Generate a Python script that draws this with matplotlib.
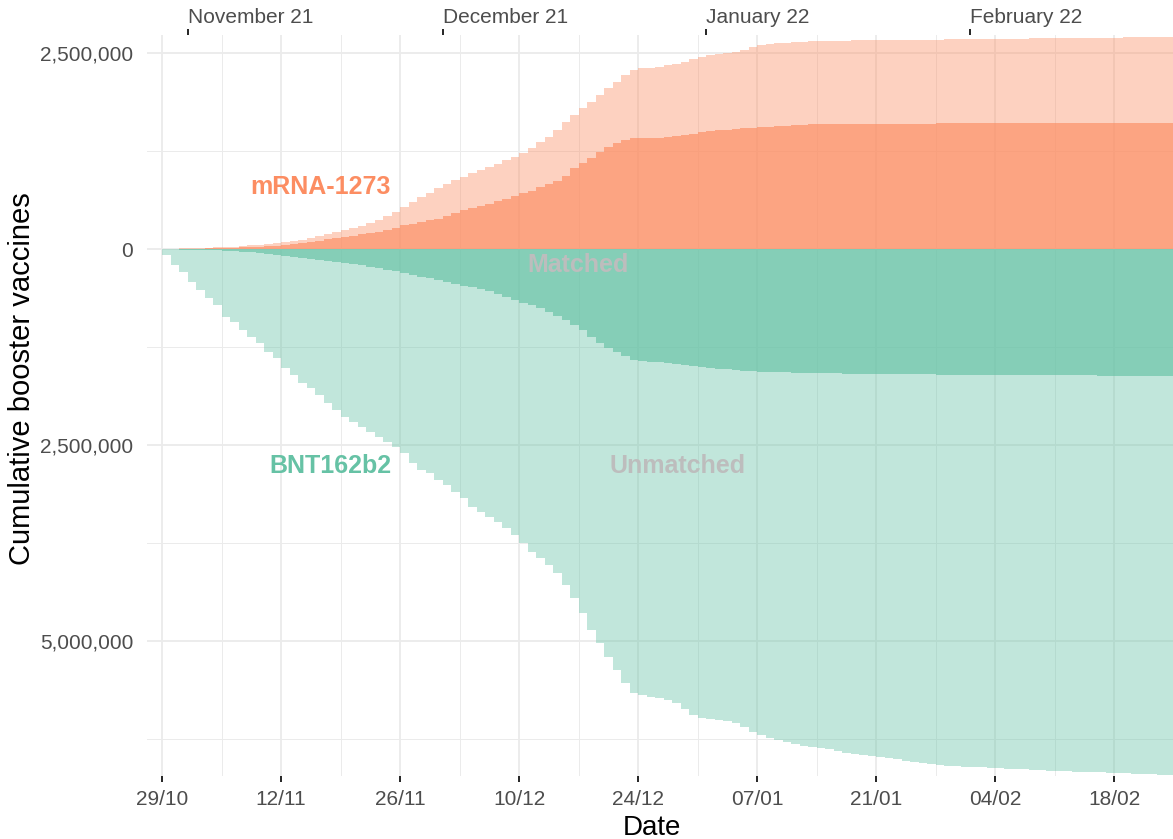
import numpy as np
import pandas as pd
import matplotlib
matplotlib.use('Agg')
import matplotlib.pyplot as plt
import matplotlib.dates as mdates
from matplotlib.ticker import FixedLocator, FuncFormatter

plt.rcParams['font.family'] = ['Liberation Sans', 'DejaVu Sans']

# cumulative booster doses per day (thousands), from 29/10/2021
start = '2021-10-29'
mrna_total = [2, 4, 7, 10, 13, 17, 21, 26, 31, 37,
              45, 54, 64, 76, 89, 104, 121, 140, 164, 190,
              215, 242, 270, 300, 332, 372, 415, 470, 536, 600,
              663, 720, 778, 830, 880, 925, 969, 1008, 1046, 1090,
              1135, 1180, 1224, 1288, 1365, 1429, 1518, 1620, 1709, 1798,
              1875, 1964, 2054, 2130, 2219, 2283, 2309, 2312, 2321, 2347,
              2360, 2385, 2423, 2449, 2474, 2487, 2500, 2513, 2538, 2577,
              2602, 2615, 2628, 2634, 2640, 2645, 2649, 2653, 2655, 2657,
              2658, 2660, 2661, 2663, 2664, 2666, 2667, 2668, 2669, 2670,
              2671, 2672, 2673, 2674, 2675, 2676, 2677, 2679, 2680, 2681,
              2682, 2684, 2686, 2688, 2690, 2691, 2692, 2693, 2694, 2695,
              2696, 2697, 2698, 2699, 2700, 2701, 2702, 2703, 2704]
mrna_matched = [0, 1, 2, 3, 5, 7, 10, 13, 16, 20,
                25, 31, 37, 44, 51, 62, 76, 92, 108, 123,
                138, 153, 170, 187, 204, 222, 242, 272, 306, 325,
                345, 364, 383, 420, 460, 497, 522, 548, 574, 608,
                642, 676, 714, 740, 791, 830, 867, 931, 1033, 1100,
                1161, 1237, 1301, 1352, 1390, 1416, 1418, 1420, 1422, 1430,
                1442, 1454, 1472, 1490, 1505, 1515, 1524, 1532, 1540, 1548,
                1556, 1562, 1568, 1574, 1580, 1586, 1590, 1594, 1595, 1596,
                1596, 1597, 1597, 1598, 1598, 1599, 1599, 1600, 1600, 1601,
                1601, 1602, 1602, 1603, 1603, 1604, 1604, 1605, 1605, 1606,
                1606, 1606, 1607, 1607, 1607, 1607, 1607, 1607, 1607, 1607,
                1607, 1607, 1607, 1607, 1607, 1607, 1607, 1607, 1607]
bnt_total = [77, 204, 293, 421, 523, 625, 714, 867, 931, 1033,
             1122, 1199, 1314, 1390, 1518, 1607, 1709, 1773, 1862, 1964,
             2054, 2143, 2207, 2270, 2334, 2398, 2462, 2525, 2602, 2730,
             2819, 2857, 2946, 3010, 3099, 3176, 3291, 3355, 3418, 3482,
             3559, 3648, 3750, 3865, 3941, 4031, 4133, 4286, 4451, 4643,
             4860, 5025, 5204, 5370, 5536, 5663, 5689, 5714, 5727, 5753,
             5791, 5867, 5944, 5982, 5995, 6008, 6020, 6046, 6097, 6161,
             6199, 6237, 6263, 6288, 6314, 6339, 6352, 6365, 6378, 6403,
             6429, 6441, 6454, 6467, 6480, 6492, 6505, 6531, 6543, 6556,
             6569, 6582, 6594, 6596, 6607, 6608, 6609, 6620, 6622, 6633,
             6635, 6637, 6645, 6648, 6658, 6660, 6662, 6671, 6673, 6675,
             6677, 6684, 6686, 6688, 6697, 6699, 6701, 6709, 6711]
bnt_matched = [3, 5, 7, 9, 11, 14, 17, 22, 28, 35,
               44, 55, 67, 80, 95, 108, 118, 128, 138, 150,
               164, 179, 192, 207, 224, 244, 264, 284, 306, 330,
               352, 374, 398, 421, 444, 466, 490, 512, 536, 570,
               608, 650, 684, 718, 753, 800, 850, 906, 968, 1033,
               1118, 1199, 1260, 1314, 1370, 1416, 1426, 1436, 1445, 1454,
               1465, 1480, 1495, 1508, 1518, 1527, 1535, 1542, 1550, 1558,
               1565, 1569, 1572, 1575, 1578, 1580, 1582, 1584, 1585, 1587,
               1588, 1590, 1591, 1593, 1594, 1595, 1596, 1597, 1598, 1599,
               1600, 1601, 1602, 1603, 1604, 1604, 1605, 1605, 1606, 1606,
               1607, 1607, 1608, 1609, 1609, 1610, 1611, 1611, 1612, 1613,
               1614, 1614, 1615, 1616, 1617, 1618, 1618, 1619, 1620]

orange = '#FC8D62'
green = '#66C2A5'


def steps(vals, sign=1):
    v = sign * np.array(vals, dtype=float) * 1000
    return np.append(v, v[-1])


n = len(mrna_total)
edges = pd.date_range(start, periods=n + 1, freq='D')

fig = plt.figure(figsize=(11.73, 8.39), dpi=100)
ax = fig.add_axes([147 / 1173, 63 / 839, 1026 / 1173, 741 / 839])

ax.fill_between(edges, 0, steps(mrna_total), step='post', color=orange, alpha=0.4, lw=0)
ax.fill_between(edges, 0, steps(mrna_matched), step='post', color=orange, alpha=0.66, lw=0)
ax.fill_between(edges, 0, steps(bnt_total, -1), step='post', color=green, alpha=0.4, lw=0)
ax.fill_between(edges, 0, steps(bnt_matched, -1), step='post', color=green, alpha=0.66, lw=0)

x0 = mdates.date2num(pd.Timestamp(start))
ax.set_xlim(x0 - 1.765, x0 + 118.94)
ax.set_ylim(-6722000, 2730000)

major = pd.date_range(start, '2022-02-25', freq='14D')
minor = pd.date_range('2021-11-05', '2022-02-25', freq='14D')
ax.xaxis.set_major_locator(FixedLocator(mdates.date2num(major)))
ax.xaxis.set_minor_locator(FixedLocator(mdates.date2num(minor)))
ax.xaxis.set_major_formatter(mdates.DateFormatter('%d/%m'))
ax.yaxis.set_major_locator(FixedLocator([-5000000, -2500000, 0, 2500000]))
ax.yaxis.set_minor_locator(FixedLocator([-6250000, -3750000, -1250000, 1250000]))
ax.yaxis.set_major_formatter(FuncFormatter(lambda v, p: f'{abs(v):,.0f}'))

ax.set_axisbelow(True)
ax.grid(which='major', color='#EBEBEB', lw=1.3)
ax.grid(which='minor', color='#EBEBEB', lw=0.7)
for s in ax.spines.values():
    s.set_visible(False)
ax.tick_params(axis='x', which='major', length=4, width=1.2, color='black',
               labelsize=15, labelcolor='#4D4D4D', pad=6)
ax.tick_params(axis='x', which='minor', length=0)
ax.tick_params(axis='y', which='both', length=0, labelsize=15,
               labelcolor='#4D4D4D', pad=10)

ax.set_xlabel('Date', fontsize=20)
ax.set_ylabel('Cumulative booster vaccines', fontsize=21)
ax.xaxis.set_label_coords(0.492, -0.052)
ax.yaxis.set_label_coords(-0.108, 0.536)

# month axis on top
top = ax.twiny()
top.set_xlim(ax.get_xlim())
months = pd.date_range('2021-11-01', periods=4, freq='MS')
top.set_xticks(mdates.date2num(months))
top.set_xticklabels([m.strftime('%B %y') for m in months], ha='left')
top.tick_params(axis='x', length=4, width=1.2, color='black', labelsize=15,
                labelcolor='#4D4D4D', pad=2)
for s in top.spines.values():
    s.set_visible(False)

t0 = pd.Timestamp(start)
ax.text(t0 + pd.Timedelta(days=18.6), 790000, 'mRNA-1273', color=orange,
        fontsize=18, fontweight='bold', ha='center', va='center')
ax.text(t0 + pd.Timedelta(days=19.8), -2770000, 'BNT162b2', color=green,
        fontsize=18, fontweight='bold', ha='center', va='center')
ax.text(t0 + pd.Timedelta(days=48.9), -204000, 'Matched', color='#BDBDBD',
        fontsize=18, fontweight='bold', ha='center', va='center')
ax.text(t0 + pd.Timedelta(days=60.7), -2770000, 'Unmatched', color='#BDBDBD',
        fontsize=18, fontweight='bold', ha='center', va='center')

fig.savefig('out.png', dpi=100)
